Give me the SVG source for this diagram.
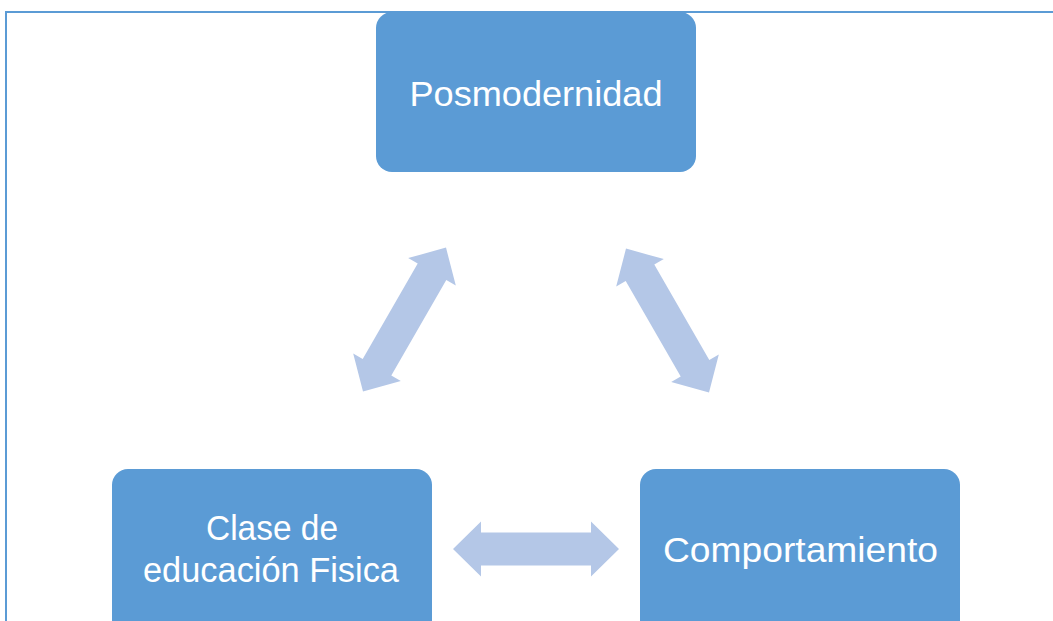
<svg xmlns="http://www.w3.org/2000/svg" width="1053" height="621" viewBox="0 0 1053 621">
<style>
.node{fill:#5b9bd5}
.lbl{fill:#ffffff;font-family:"Liberation Sans",Arial,sans-serif;font-size:35px;text-anchor:middle}
.arrow{fill:#b4c7e7}
.frame{fill:none;stroke:#5b9bd5;stroke-width:2}
</style>
<defs>
<path id="dbl" d="M -83 0 L -55 -27.5 L -55 -16.5 L 55 -16.5 L 55 -27.5 L 83 0 L 55 27.5 L 55 16.5 L -55 16.5 L -55 27.5 Z"/>
</defs>
<rect width="1053" height="621" fill="#ffffff"/>
<path class="frame" d="M 6 621 L 6 12 L 1053 12"/>
<g id="connectors">
<use href="#dbl" class="arrow" transform="translate(404.5,319.5) rotate(-60)"/>
<use href="#dbl" class="arrow" transform="translate(667.5,320.5) rotate(60)"/>
<use href="#dbl" class="arrow" transform="translate(536,549)"/>
</g>
<g id="posmodernidad">
<rect class="node" x="376" y="12" width="320" height="160" rx="16"/>
<text class="lbl" x="536" y="106" textLength="253" lengthAdjust="spacingAndGlyphs">Posmodernidad</text>
</g>
<g id="clase">
<rect class="node" x="112" y="469" width="320" height="170" rx="16"/>
<text class="lbl" x="272" y="540" textLength="132" lengthAdjust="spacingAndGlyphs">Clase de</text>
<text class="lbl" x="271" y="582" textLength="256" lengthAdjust="spacingAndGlyphs">educación Fisica</text>
</g>
<g id="comportamiento">
<rect class="node" x="640" y="469" width="320" height="170" rx="16"/>
<text class="lbl" x="800.5" y="562" textLength="275" lengthAdjust="spacingAndGlyphs">Comportamiento</text>
</g>
</svg>
